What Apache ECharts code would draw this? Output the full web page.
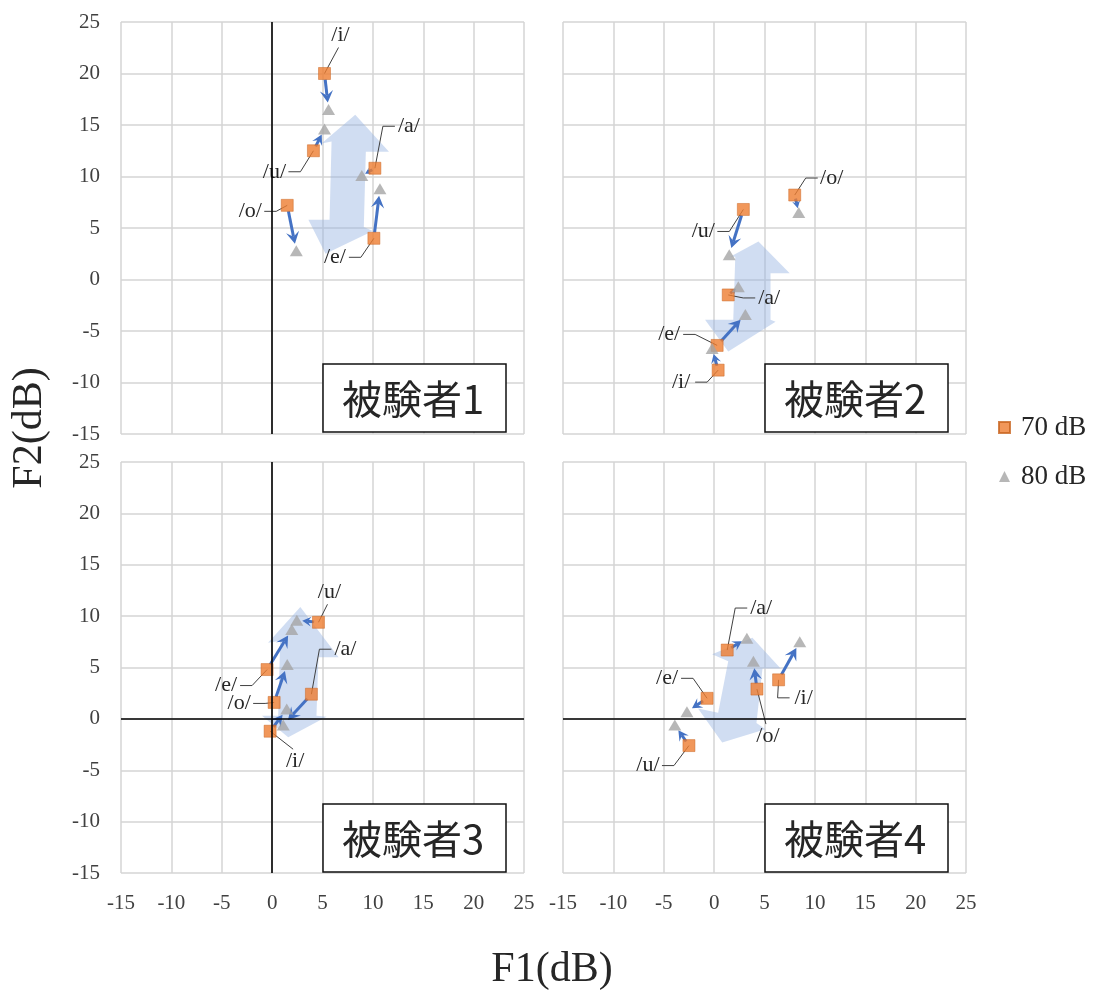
<!DOCTYPE html>
<html>
<head>
<meta charset="utf-8">
<script src="https://cdn.jsdelivr.net/npm/echarts@6/dist/echarts.min.js"></script>
<style>html,body{margin:0;padding:0;background:#fff;}#c{width:1102px;height:994px;}</style>
</head>
<body>
<div id="c"></div>
<script>
// ---------- data ----------
const subjects = ['被験者1', '被験者2', '被験者3', '被験者4'];
const vowels = ['/a/', '/i/', '/u/', '/e/', '/o/'];
const ticks = [-15, -10, -5, 0, 5, 10, 15, 20, 25];

// [F1, F2] per vowel (a, i, u, e, o)
const s1_70 = [[10.2, 10.8], [5.2, 20.0], [4.1, 12.5], [10.1, 4.0], [1.5, 7.2]];
const s1_80 = [[8.9, 10.1], [5.6, 16.5], [5.2, 14.6], [10.7, 8.8], [2.4, 2.8]];
const s2_70 = [[1.4, -1.5], [0.4, -8.8], [2.9, 6.8], [0.3, -6.4], [8.0, 8.2]];
const s2_80 = [[2.4, -0.7], [-0.2, -6.7], [1.5, 2.4], [3.1, -3.4], [8.4, 6.5]];
const s3_70 = [[3.9, 2.4], [-0.2, -1.2], [4.6, 9.4], [-0.5, 4.8], [0.2, 1.6]];
const s3_80 = [[1.1, -0.6], [1.45, 0.95], [2.45, 9.6], [1.95, 8.7], [1.5, 5.3]];
const s4_70 = [[1.3, 6.7], [6.4, 3.8], [-2.5, -2.6], [-0.7, 2.0], [4.25, 2.9]];
const s4_80 = [[3.25, 7.85], [8.5, 7.5], [-3.9, -0.6], [-2.7, 0.7], [3.9, 5.6]];

// translucent trend arrows (vertices in data units)
const bigArrow1 = [[8.25, 16.0], [11.6, 12.4], [9.3, 12.4], [9.1, 5.1], [10.0, 4.7], [5.3, 2.5], [3.6, 5.8], [5.7, 5.8], [5.9, 13.4], [4.9, 13.2]];
const bigArrow2 = [[4.4, 3.7], [7.5, 0.6], [5.6, 0.6], [5.6, -3.9], [6.1, -4.1], [1.4, -7.0], [-0.9, -3.9], [1.9, -3.9], [2.1, 2.2], [1.6, 2.2]];
const bigArrow3 = [[2.8, 10.9], [6.6, 6.0], [4.6, 6.0], [4.4, 0.3], [5.4, 0.2], [1.6, -1.8], [-1.0, 0.3], [0.6, 0.3], [0.8, 7.6], [-0.4, 7.4]];
const bigArrow4 = [[3.8, 7.9], [6.6, 4.9], [4.8, 4.9], [4.2, -0.4], [5.1, -1.0], [0.8, -2.3], [-1.6, 1.0], [0.4, 0.6], [1.4, 5.6], [-0.2, 6.3]];

// ---------- layout (positions / styles) ----------
const gridBoxes = [
  { left: 121, top: 22, width: 403, height: 412 },
  { left: 563, top: 22, width: 403, height: 412 },
  { left: 121, top: 462, width: 403, height: 411 },
  { left: 563, top: 462, width: 403, height: 411 }
];
// label offset from the 70 dB point, px, and leader style
const labelLayout = [
  [[34, -42, 'h'], [16, -38, 'v'], [-39, 21, 'h'], [-39, 19, 'h'], [-37, 6, 'h']],
  [[41, 3, 'h'], [-37, 12, 'h'], [-40, 22, 'h'], [-48, -11, 'h'], [37, -17, 'h']],
  [[34, -45, 'h'], [25, 30, 'v'], [11, -30, 'v'], [-41, 16, 'h'], [-35, 1, 'h']],
  [[34, -42, 'h'], [25, 18, 'h'], [-41, 20, 'h'], [-40, -20, 'h'], [11, 47, 'v']]
];
const zeroLines = [{ v: true, h: false }, { v: false, h: false }, { v: true, h: true }, { v: false, h: true }];

const pts70 = [s1_70, s2_70, s3_70, s4_70];
const pts80 = [s1_80, s2_80, s3_80, s4_80];
const bigArrows = [bigArrow1, bigArrow2, bigArrow3, bigArrow4];

const C70 = '#ED7D31', C80 = '#A5A5A5', CBLUE = '#4472C4';
const SERIF = '"Liberation Serif", "Times New Roman", serif';

const chart = echarts.init(document.getElementById('c'), null, { renderer: 'canvas' });

const grids = gridBoxes.map(g => Object.assign({ containLabel: false }, g));
const xAxes = [], yAxes = [], series = [];

for (let g = 0; g < 4; g++) {
  const bottom = g >= 2, left = g % 2 === 0;
  xAxes.push({
    type: 'value', gridIndex: g, min: -15, max: 25, interval: 5,
    axisLine: { show: false }, axisTick: { show: false },
    axisLabel: { show: bottom, fontSize: 21, fontFamily: SERIF, color: '#404040', margin: 20 },
    splitLine: { show: true, showMinLine: true, showMaxLine: true, lineStyle: { color: '#d4d4d4', width: 1.5 } }
  });
  yAxes.push({
    type: 'value', gridIndex: g, min: -15, max: 25, interval: 5,
    axisLine: { show: false }, axisTick: { show: false },
    axisLabel: { show: left, fontSize: 21, fontFamily: SERIF, color: '#404040', margin: 21 },
    splitLine: { show: true, showMinLine: true, showMaxLine: true, lineStyle: { color: '#d4d4d4', width: 1.5 } }
  });

  // translucent big arrow
  const poly = bigArrows[g];
  series.push({
    type: 'custom', xAxisIndex: g, yAxisIndex: g, z: 1, silent: true,
    data: [poly[0]], encode: { x: 0, y: 1 },
    renderItem: function (params, api) {
      return {
        type: 'polygon',
        shape: { points: poly.map(p => api.coord(p)) },
        style: { fill: 'rgba(150,180,226,0.45)' }
      };
    }
  });

  // leader lines + vowel labels
  const lay = labelLayout[g];
  series.push({
    type: 'custom', xAxisIndex: g, yAxisIndex: g, z: 2, silent: true, clip: false,
    data: pts70[g].map((p, i) => [p[0], p[1], i]), encode: { x: 0, y: 1 },
    renderItem: function (params, api) {
      const p = api.coord([api.value(0), api.value(1)]);
      const i = params.dataIndex;
      const ox = lay[i][0], oy = lay[i][1], type = lay[i][2];
      const L = [p[0] + ox, p[1] + oy];
      let pts;
      if (type === 'h') {
        const side = ox > 0 ? -1 : 1;
        pts = [[L[0] + side * 14, L[1]], [L[0] + side * 26, L[1]], p];
      } else {
        const side = oy < 0 ? 1 : -1;
        pts = [[L[0] - 2, L[1] + side * 12], p];
      }
      return {
        type: 'group',
        children: [
          { type: 'polyline', shape: { points: pts }, style: { stroke: '#404040', lineWidth: 1, fill: null } },
          { type: 'text', style: { text: vowels[i], x: L[0], y: L[1], align: 'center', verticalAlign: 'middle', font: '22px ' + SERIF, fill: '#262626' } }
        ]
      };
    }
  });

  // blue arrows 70 -> 80
  series.push({
    type: 'custom', xAxisIndex: g, yAxisIndex: g, z: 3, silent: true,
    data: pts70[g].map((p, i) => [p[0], p[1], pts80[g][i][0], pts80[g][i][1]]),
    encode: { x: [0, 2], y: [1, 3] },
    renderItem: function (params, api) {
      const p0 = api.coord([api.value(0), api.value(1)]);
      const p1 = api.coord([api.value(2), api.value(3)]);
      const dx = p1[0] - p0[0], dy = p1[1] - p0[1];
      const len = Math.hypot(dx, dy);
      if (len < 1) return null;
      const ux = dx / len, uy = dy / len, nx = -uy, ny = ux;
      const s0 = Math.min(6, len * 0.2), s1 = Math.min(7, len * 0.25);
      const a = [p0[0] + ux * s0, p0[1] + uy * s0];
      const tip = [p1[0] - ux * s1, p1[1] - uy * s1];
      const head = Math.min(12, (len - s0 - s1) * 0.75);
      const hw = Math.max(head * 0.55, 3.5);
      const base = [tip[0] - ux * head, tip[1] - uy * head];
      const notch = [tip[0] - ux * head * 0.6, tip[1] - uy * head * 0.6];
      return {
        type: 'group',
        children: [
          { type: 'line', shape: { x1: a[0], y1: a[1], x2: notch[0], y2: notch[1] }, style: { stroke: CBLUE, lineWidth: 3 } },
          { type: 'polygon', shape: { points: [tip, [base[0] + nx * hw, base[1] + ny * hw], notch, [base[0] - nx * hw, base[1] - ny * hw]] }, style: { fill: CBLUE } }
        ]
      };
    }
  });

  // zero lines
  const ml = [];
  if (zeroLines[g].v) ml.push({ xAxis: 0 });
  if (zeroLines[g].h) ml.push({ yAxis: 0 });

  series.push({
    name: '70 dB', type: 'scatter', xAxisIndex: g, yAxisIndex: g, z: 4,
    symbol: 'rect', symbolSize: 12,
    itemStyle: { color: C70, borderColor: '#c8641f', borderWidth: 0.6 },
    data: pts70[g].map((p, i) => [p[0], p[1], i]),
    markLine: ml.length ? {
      silent: true, symbol: 'none', animation: false,
      label: { show: false },
      lineStyle: { color: '#000', width: 1.6, type: 'solid' },
      data: ml
    } : undefined
  });
  series.push({
    name: '80 dB', type: 'scatter', xAxisIndex: g, yAxisIndex: g, z: 4,
    symbol: 'triangle', symbolSize: [13, 11],
    itemStyle: { color: C80 },
    data: pts80[g].map((p, i) => [p[0], p[1], i])
  });
}

// subject boxes
const graphics = [];
gridBoxes.forEach((gb, g) => {
  const bx = gb.left + 202, by = gb.top + 342;
  graphics.push({
    type: 'rect', z: 100, silent: true,
    shape: { x: bx, y: by, width: 183, height: 68 },
    style: { fill: '#fff', stroke: '#111', lineWidth: 1.5 }
  });
  graphics.push({
    type: 'text', z: 101, silent: true, x: bx + 90, y: by + 35,
    style: { text: subjects[g], align: 'center', verticalAlign: 'middle', font: '40px "Noto Sans CJK JP"', fill: '#262626' }
  });
});
graphics.push({
  type: 'text', z: 101, silent: true, x: 552, y: 970,
  style: { text: 'F1(dB)', align: 'center', verticalAlign: 'middle', font: '42px ' + SERIF, fill: '#262626' }
});
graphics.push({
  type: 'text', z: 101, silent: true, x: 30, y: 428, rotation: Math.PI / 2,
  style: { text: 'F2(dB)', align: 'center', verticalAlign: 'middle', font: '42px ' + SERIF, fill: '#262626' }
});

chart.setOption({
  backgroundColor: '#fff',
  animation: false,
  grid: grids,
  xAxis: xAxes,
  yAxis: yAxes,
  legend: {
    data: ['70 dB', '80 dB'], orient: 'vertical', left: 993, top: 409,
    itemWidth: 11, itemHeight: 11, itemGap: 22,
    textStyle: { fontSize: 27, fontFamily: SERIF, color: '#262626', padding: [0, 0, 0, 6] }
  },
  graphic: graphics,
  series: series
});
</script>
</body>
</html>
